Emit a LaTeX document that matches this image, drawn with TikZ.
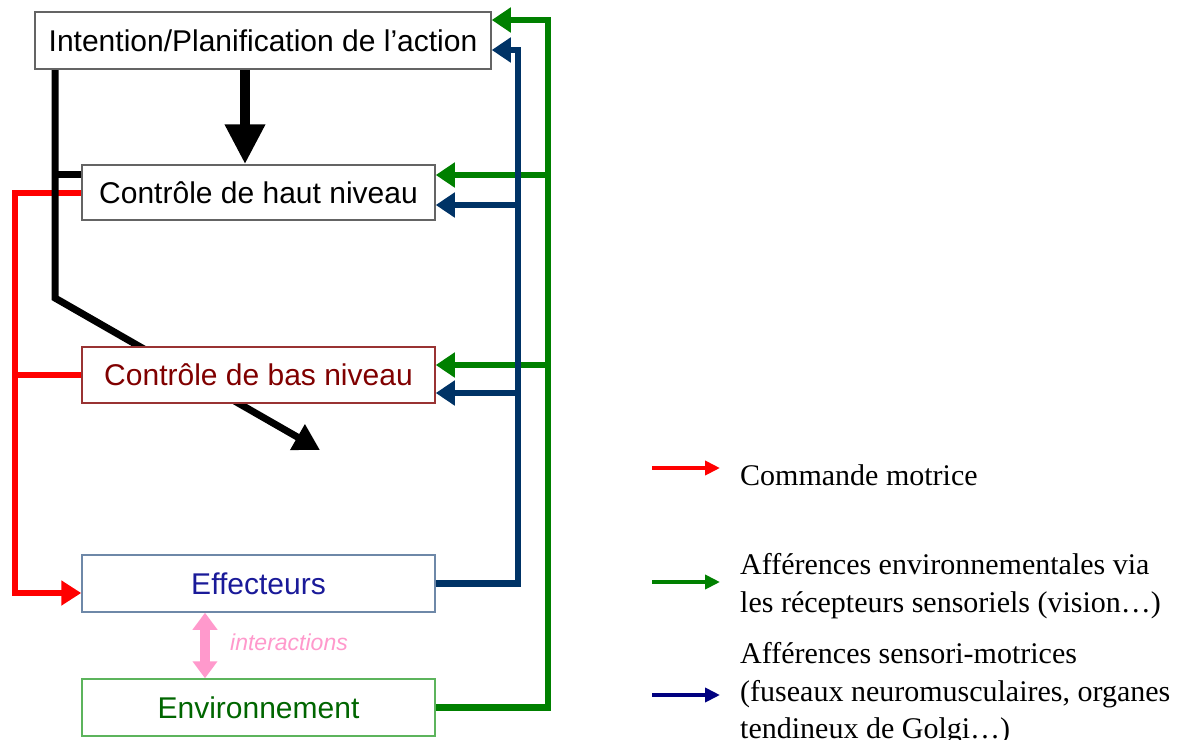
\documentclass[tikz,border=0pt]{standalone}
\usepackage{fontspec}
\setmainfont{Liberation Serif}
\setsansfont{Liberation Sans}
\usetikzlibrary{arrows.meta,backgrounds}
\definecolor{redc}{RGB}{255,0,0}
\definecolor{greenc}{RGB}{0,128,0}
\definecolor{navyc}{RGB}{0,51,102}
\definecolor{legblue}{RGB}{0,0,128}
\definecolor{boxgray}{RGB}{100,100,100}
\definecolor{bnborder}{RGB}{153,51,51}
\definecolor{bntext}{RGB}{128,0,0}
\definecolor{efftext}{RGB}{26,26,153}
\definecolor{effborder}{RGB}{110,136,168}
\definecolor{envtext}{RGB}{0,102,0}
\definecolor{envborder}{RGB}{92,180,92}
\definecolor{pinkc}{RGB}{255,153,204}
\begin{document}
\begin{tikzpicture}[x=1pt,y=-1pt,
  box/.style={draw=boxgray, line width=1.5pt, fill=white, inner sep=0pt,
    font=\sffamily\fontsize{30}{36}\selectfont},
  cmd/.style={draw=redc, line width=6pt},
  cmdarrow/.style={cmd, -{Triangle[length=20pt,width=24pt]}},
  blk/.style={draw=black, line width=7pt},
  env/.style={draw=greenc, line width=6.5pt, -{Triangle[length=19pt,width=24pt]}},
  sens/.style={draw=navyc, line width=6.5pt, -{Triangle[length=19pt,width=24pt]}},
  legtext/.style={anchor=west, align=left, inner sep=0pt,
    font=\rmfamily\fontsize{30}{37.5}\selectfont},
  legarrow/.style={line width=4pt, -{Triangle[length=15pt,width=14pt]}}
]
\useasboundingbox (0,0) rectangle (1185,739);

% boxes
\node[box, minimum width=456pt, minimum height=57pt] (int) at (263,40.5) {Intention/Planification de l'action};
\node[box, minimum width=353pt, minimum height=55pt] (hn) at (258.5,192.5) {Contrôle de haut niveau};
\node[box, draw=bnborder, text=bntext, minimum width=353pt, minimum height=56pt] (bn) at (258.5,375) {Contrôle de bas niveau};
\node[box, draw=effborder, text=efftext, minimum width=353pt, minimum height=57pt] (eff) at (258.5,583.5) {Effecteurs};
\node[box, draw=envborder, text=envtext, minimum width=353pt, minimum height=57pt] (envn) at (258.5,707.5) {Environnement};

% junction coordinates
\coordinate (rx) at (15,0);
\coordinate (bx) at (55,0);
\coordinate (bk) at (55,298);
\coordinate (btip) at (320,450);
\coordinate (bigx) at (245,0);
\coordinate (gx) at (548,0);
\coordinate (nx) at (518,0);

\begin{scope}[on background layer]
  \fill[white] (0,0) rectangle (1185,739);
  % red: motor command
  \draw[cmdarrow] (hn.west) -- (hn.west -| rx) |- ([yshift=-9.5pt]eff.west);
  \draw[cmd] (bn.west) -- (bn.west -| rx);
  % black
  \draw[blk, line join=miter, -{Triangle[length=26pt,width=28pt]}] (int.south -| bx) -- (bk) -- (btip);
  \draw[blk] ([yshift=-10pt]hn.north west) -- ([yshift=-10pt]hn.north west -| bx);
  % green
  \draw[env] (envn.east) -| ([yshift=20.5pt]int.east -| gx) -- ([yshift=20.5pt]int.east);
  \draw[env] ([yshift=17.5pt]hn.east -| gx) -- ([yshift=17.5pt]hn.east);
  \draw[env] ([yshift=10pt]bn.east -| gx) -- ([yshift=10pt]bn.east);
  % blue
  \draw[sens] (eff.east) -| ([yshift=-9.5pt]int.east -| nx) -- ([yshift=-9.5pt]int.east);
  \draw[sens] ([yshift=-12.5pt]hn.east -| nx) -- ([yshift=-12.5pt]hn.east);
  \draw[sens] ([yshift=-18pt]bn.east -| nx) -- ([yshift=-18pt]bn.east);
\end{scope}

% big black arrow
\draw[line width=10pt, -{Triangle[length=40pt,width=38pt]}] (int.south -| bigx) -- (hn.north -| bigx);

% interactions
\draw[pinkc, line width=10pt, {Triangle[length=17pt,width=24pt]}-{Triangle[length=17pt,width=24pt]}] ([xshift=-53.5pt]eff.south) -- ([xshift=-53.5pt]envn.north);
\node[text=pinkc, font=\sffamily\itshape\fontsize{23}{28}\selectfont, inner sep=0pt] (inter) at (289,642) {interactions};

% legend
\node[legtext] (l1) at (740,475) {Commande motrice};
\node[legtext] (l2) at (740,586) {Afférences environnementales via\\les récepteurs sensoriels (vision…)};
\node[legtext] (l3) at (740,694) {Afférences sensori-motrices\\(fuseaux neuromusculaires, organes\\tendineux de Golgi…)};
\draw[legarrow, redc] ([xshift=-88pt,yshift=7pt]l1.west) -- ([xshift=-20pt,yshift=7pt]l1.west);
\draw[legarrow, greenc] ([xshift=-88pt,yshift=4pt]l2.west) -- ([xshift=-20pt,yshift=4pt]l2.west);
\draw[legarrow, legblue] ([xshift=-88pt,yshift=-1pt]l3.west) -- ([xshift=-20pt,yshift=-1pt]l3.west);
\end{tikzpicture}
\end{document}
